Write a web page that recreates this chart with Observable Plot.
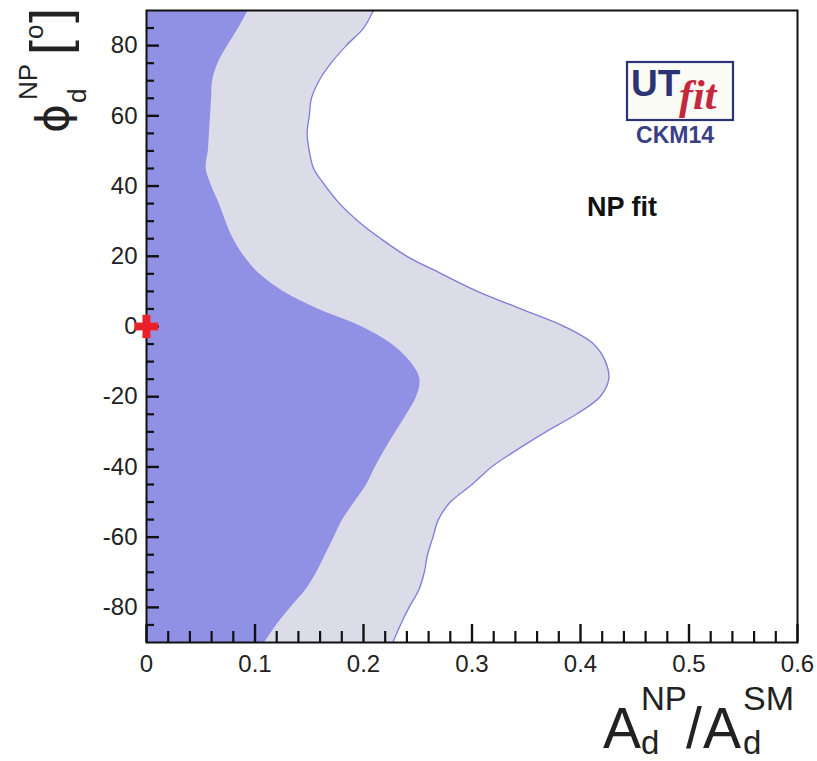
<!DOCTYPE html>
<html>
<head>
<meta charset="utf-8">
<script src="https://cdn.jsdelivr.net/npm/d3@7"></script>
<script src="https://cdn.jsdelivr.net/npm/@observablehq/plot@0.6"></script>
<style>
  html, body { margin: 0; padding: 0; background: #fff; }
  #chart svg { display: block; }
</style>
</head>
<body>
<div id="chart"></div>
<script>
// phi_d^NP in degrees (y), boundaries in A_d^NP/A_d^SM (x)
const phi = [90, 85, 80, 75, 70, 65, 60, 55, 50, 45, 40, 35, 30, 25, 20, 15, 10, 5, 0,
  -5, -10, -15, -20, -25, -30, -35, -40, -45, -50, -55, -60, -65, -70, -75, -80, -85, -90];
// 68% region boundary
const inner = [0.094, 0.085, 0.075, 0.066, 0.061, 0.060, 0.059, 0.058, 0.057, 0.055, 0.060,
  0.067, 0.073, 0.080, 0.090, 0.104, 0.126, 0.158, 0.198, 0.226, 0.243, 0.252, 0.249, 0.240,
  0.230, 0.220, 0.211, 0.203, 0.192, 0.181, 0.173, 0.165, 0.157, 0.147, 0.133, 0.120, 0.109];
// 95% region boundary
const outer = [0.209, 0.200, 0.184, 0.170, 0.159, 0.152, 0.150, 0.148, 0.150, 0.154, 0.165,
  0.178, 0.195, 0.216, 0.240, 0.272, 0.305, 0.345, 0.385, 0.412, 0.423, 0.426, 0.418, 0.396,
  0.368, 0.342, 0.318, 0.300, 0.280, 0.269, 0.264, 0.259, 0.256, 0.251, 0.242, 0.234, 0.227];
// Standard Model point
const smPoint = [{x: 0, y: 0}];

const xTicks = [0, 0.1, 0.2, 0.3, 0.4, 0.5, 0.6];
const xTickLabels = ["0", "0.1", "0.2", "0.3", "0.4", "0.5", "0.6"];
const yTicks = [-80, -60, -40, -20, 0, 20, 40, 60, 80];
const yTickLabels = ["-80", "-60", "-40", "-20", "0", "20", "40", "60", "80"];
const xMinor = d3.range(1, 30).map(i => i / 50).filter(v => Math.abs(v * 10 - Math.round(v * 10)) > 1e-6);
const yMinor = d3.range(-85, 90, 5).filter(v => v % 20 !== 0);

const data = phi.map((p, i) => ({phi: p, inner: inner[i], outer: outer[i]}));

const W = 817, H = 761, mL = 146, mR = 20, mT = 10, mB = 119;
const fw = W - mL - mR, fh = H - mT - mB;
const font = "'Liberation Sans', Arial, Helvetica, sans-serif";

const svg = Plot.plot({
  width: W, height: H,
  marginLeft: mL, marginRight: mR, marginTop: mT, marginBottom: mB,
  style: {fontFamily: font, background: "#fff", color: "#222"},
  x: {domain: [0, 0.6]},
  y: {domain: [-90, 90]},
  marks: [
    Plot.areaX(data, {y: "phi", x1: 0, x2: "outer", fill: "#dcdce9", curve: "catmull-rom", clip: true}),
    Plot.areaX(data, {y: "phi", x1: 0, x2: "inner", fill: "#9090e4", curve: "catmull-rom", clip: true}),
    Plot.lineX(data, {y: "phi", x: "outer", stroke: "#7f7fd6", strokeWidth: 1.4, curve: "catmull-rom", clip: true}),
    Plot.tickY(yTicks, {y: d => d, insetRight: fw - 13, stroke: "#111", strokeWidth: 2.4}),
    Plot.tickY(yMinor, {y: d => d, insetRight: fw - 8, stroke: "#111", strokeWidth: 2.2}),
    Plot.tickX(xTicks, {x: d => d, insetTop: fh - 18, stroke: "#111", strokeWidth: 2.4}),
    Plot.tickX(xMinor, {x: d => d, insetTop: fh - 11, stroke: "#111", strokeWidth: 2.2}),
    Plot.frame({stroke: "#111", strokeWidth: 2}),
    Plot.axisY({ticks: yTicks, tickSize: 0, tickPadding: 9, fontSize: 24, label: null,
      tickFormat: d => yTickLabels[yTicks.indexOf(d)]}),
    Plot.axisX({ticks: xTicks, tickSize: 0, tickPadding: 12, fontSize: 24, label: null,
      tickFormat: d => xTickLabels[xTicks.indexOf(d)]}),
    Plot.dot(smPoint, {x: "x", y: "y", symbol: "cross", r: 9.7, fill: "#e8202a", stroke: "#ff4040", strokeWidth: 1, strokeOpacity: 0.4})
  ]
});

const s = d3.select(svg);
function txt(x, y, str, size, opts = {}) {
  const t = s.append("text")
    .attr("x", x).attr("y", y)
    .attr("font-size", size)
    .attr("font-family", opts.family || font)
    .attr("font-weight", opts.weight || "normal")
    .attr("font-style", opts.style || "normal")
    .attr("fill", opts.fill || "#222")
    .attr("text-anchor", opts.anchor || "start")
    .text(str);
  return t;
}
function rtxt(x, y, str, size, opts = {}) {
  const t = txt(0, 0, str, size, opts);
  t.attr("transform", `translate(${x},${y}) rotate(-90)`);
  return t;
}

// x axis title: A_d^NP / A_d^SM
txt(603, 748, "A", 57);
txt(641, 710, "NP", 33);
txt(641, 754, "d", 33);
txt(686, 748, "/", 57);
txt(703, 748, "A", 57);
txt(743, 710, "SM", 34);
txt(743, 754, "d", 33);

// y axis title: phi_d^NP [o]
rtxt(68, 133, "ϕ", 44, {family: "'DejaVu Sans', sans-serif"});
rtxt(86, 103, "d", 26);
rtxt(37, 100, "NP", 26);
rtxt(68, 55, "[", 54);
rtxt(43, 39, "o", 26);
rtxt(68, 23, "]", 54);

// UTfit logo
s.append("rect").attr("x", 627).attr("y", 62).attr("width", 106).attr("height", 58)
  .attr("fill", "#fbfbf6").attr("stroke", "#2b3375").attr("stroke-width", 2.2);
txt(631, 96, "UT", 37, {weight: "bold", fill: "#2b3375"});
txt(679, 109, "fit", 42, {weight: "bold", style: "italic", fill: "#c4283c", family: "'Liberation Serif', 'DejaVu Serif', serif"});
txt(675, 143, "CKM14", 23, {weight: "bold", fill: "#3a3f85", anchor: "middle"});

// annotation
txt(587, 216, "NP fit", 27, {weight: "bold", fill: "#111"});

document.getElementById("chart").appendChild(svg);
</script>
</body>
</html>
